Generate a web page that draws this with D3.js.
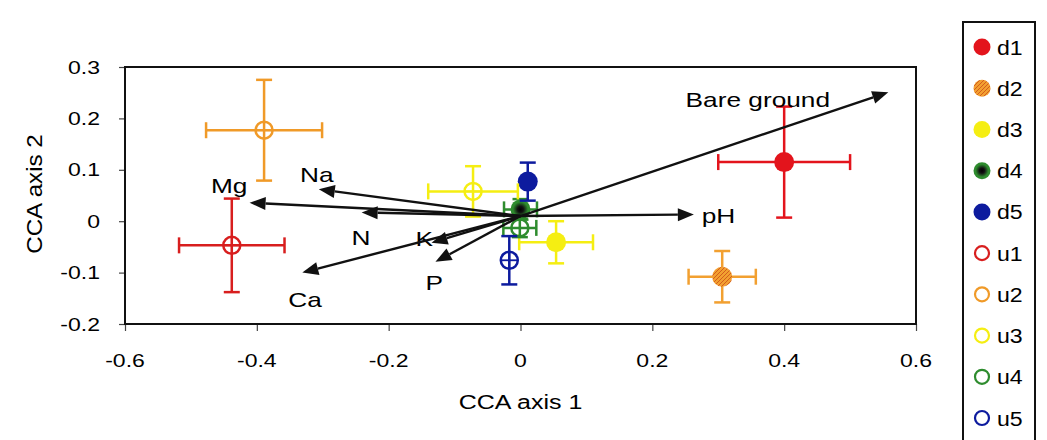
<!DOCTYPE html>
<html>
<head>
<meta charset="utf-8">
<script src="https://cdn.jsdelivr.net/npm/d3@7"></script>
<style>
  html, body { margin: 0; padding: 0; background: #fff; }
  svg { display: block; font-family: "Liberation Sans", Arial, sans-serif; }
</style>
</head>
<body>
<div id="chart"></div>
<script>
// --- данные ---
const sites = ['d1', 'd2', 'd3', 'd4', 'd5', 'u1', 'u2', 'u3', 'u4', 'u5'];
const siteX = [0.400, 0.306, 0.054, 0.000, 0.011, -0.438, -0.389, -0.072, -0.001, -0.017];
const siteY = [0.115, -0.108, -0.041, 0.023, 0.077, -0.047, 0.177, 0.058, -0.013, -0.076];
const siteXErr = [0.100, 0.051, 0.056, 0.025, 0.000, 0.080, 0.088, 0.068, 0.025, 0.000];
const siteYErr = [0.108, 0.050, 0.041, 0.020, 0.037, 0.091, 0.098, 0.049, 0.018, 0.047];

const envVars = ['Bare ground', 'pH', 'Na', 'Mg', 'N', 'K', 'P', 'Ca'];
const envX = [0.558, 0.263, -0.306, -0.411, -0.241, -0.135, -0.129, -0.331];
const envY = [0.251, 0.013, 0.062, 0.036, 0.017, -0.042, -0.079, -0.100];
const envLabelX = [0.360, 0.275, -0.309, -0.442, -0.242, -0.146, -0.131, -0.327];
const envLabelY = [0.222, -0.003, 0.077, 0.054, -0.046, -0.048, -0.134, -0.167];
const arrowOrigin = [0, 0.01];

const xTicks = [-0.6, -0.4, -0.2, 0, 0.2, 0.4, 0.6];
const yTicks = [-0.2, -0.1, 0, 0.1, 0.2, 0.3];
const xTitle = 'CCA axis 1';
const yTitle = 'CCA axis 2';

// --- оформление ---
const W = 1047, H = 440;
const plot = { left: 125, right: 916, top: 67, bottom: 324 };
const siteColor = {
  d1: '#e3141c', d2: '#f2a030', d3: '#f5ee12', d4: '#2e8c2e', d5: '#0d1b9e',
  u1: '#d81e1e', u2: '#f09a28', u3: '#f5ee12', u4: '#2e8c2e', u5: '#0d1b9e'
};

const svg = d3.select('#chart').append('svg')
  .attr('width', W).attr('height', H)
  .attr('viewBox', `0 0 ${W} ${H}`);

svg.append('rect').attr('width', W).attr('height', H).attr('fill', '#fff');

// узоры для d2 (штриховка) и d4 (тёмная середина)
const defs = svg.append('defs');
const hatch = defs.append('pattern')
  .attr('id', 'hatch-d2').attr('patternUnits', 'userSpaceOnUse')
  .attr('width', 4).attr('height', 4);
hatch.append('rect').attr('width', 4).attr('height', 4).attr('fill', '#f2a030');
hatch.append('path').attr('d', 'M0,4L4,0M-1,1L1,-1M3,5L5,3')
  .attr('stroke', '#d0551c').attr('stroke-width', 0.9);
const grad = defs.append('radialGradient').attr('id', 'grad-d4');
grad.append('stop').attr('offset', '0%').attr('stop-color', '#000');
grad.append('stop').attr('offset', '30%').attr('stop-color', '#111');
grad.append('stop').attr('offset', '75%').attr('stop-color', '#2e8c2e');
grad.append('stop').attr('offset', '100%').attr('stop-color', '#2e8c2e');

const fillFor = s => s === 'd2' ? 'url(#hatch-d2)' : s === 'd4' ? 'url(#grad-d4)' : siteColor[s];

const x = d3.scaleLinear().domain([-0.6, 0.6]).range([plot.left, plot.right]);
const y = d3.scaleLinear().domain([-0.2, 0.3]).range([plot.bottom, plot.top]);

// растянутый текст (шрифт на картинке шире Arial)
function wideText(parent, tx, ty, str, size, sx, anchor, rot = 0) {
  const g = parent.append('g')
    .attr('transform', `translate(${tx},${ty}) rotate(${rot}) scale(${sx},1)`);
  g.append('text')
    .attr('text-anchor', anchor)
    .attr('font-size', size)
    .attr('fill', '#000')
    .text(str);
  return g;
}

// оси
const xAxis = svg.append('g')
  .attr('transform', `translate(0,${plot.bottom})`)
  .call(d3.axisBottom(x).tickValues(xTicks).tickSize(7).tickSizeOuter(0).tickFormat(''));
const yAxis = svg.append('g')
  .attr('transform', `translate(${plot.left},0)`)
  .call(d3.axisLeft(y).tickValues(yTicks).tickSize(6).tickSizeOuter(0).tickFormat(''));
[xAxis, yAxis].forEach(a => {
  a.select('.domain').remove();
  a.selectAll('.tick line').attr('stroke', '#444').attr('stroke-width', 1.2);
});

// подписи делений с обычным дефисом, как в оригинале
xTicks.forEach(v => wideText(svg, x(v), 367, String(v), 18, 1.28, 'middle'));
yTicks.forEach(v => wideText(svg, 100, y(v) + 6.5, String(v), 18, 1.28, 'end'));

wideText(svg, (plot.left + plot.right) / 2, 409, xTitle, 20, 1.25, 'middle');
wideText(svg, 42, 194, yTitle, 22, 1.1, 'middle', -90);

// рамка графика
svg.append('rect')
  .attr('x', plot.left).attr('y', plot.top)
  .attr('width', plot.right - plot.left).attr('height', plot.bottom - plot.top)
  .attr('fill', 'none').attr('stroke', '#111').attr('stroke-width', 2);

// точки с погрешностями
const pts = sites.map((s, i) => ({
  s, x: siteX[i], y: siteY[i], xe: siteXErr[i], ye: siteYErr[i], open: s[0] === 'u'
}));
const cap = 8;
const pg = svg.append('g');
pts.forEach(p => {
  const g = pg.append('g')
    .attr('stroke', siteColor[p.s]).attr('stroke-width', 2.5).attr('fill', 'none');
  const cx = x(p.x), cy = y(p.y);
  if (p.xe > 0) {
    const x0 = x(p.x - p.xe), x1 = x(p.x + p.xe);
    g.append('line').attr('x1', x0).attr('x2', x1).attr('y1', cy).attr('y2', cy);
    [x0, x1].forEach(xx => g.append('line')
      .attr('x1', xx).attr('x2', xx).attr('y1', cy - cap).attr('y2', cy + cap));
  }
  if (p.ye > 0) {
    const y0 = y(p.y - p.ye), y1 = y(p.y + p.ye);
    g.append('line').attr('x1', cx).attr('x2', cx).attr('y1', y0).attr('y2', y1);
    [y0, y1].forEach(yy => g.append('line')
      .attr('x1', cx - cap).attr('x2', cx + cap).attr('y1', yy).attr('y2', yy));
  }
  if (p.open) {
    g.append('circle').attr('cx', cx).attr('cy', cy).attr('r', 8.5);
    // перекрестье внутри кружка
    g.append('line').attr('x1', cx - 8.5).attr('x2', cx + 8.5).attr('y1', cy).attr('y2', cy).attr('stroke-width', 1.8);
    g.append('line').attr('x1', cx).attr('x2', cx).attr('y1', cy - 8.5).attr('y2', cy + 8.5).attr('stroke-width', 1.8);
  } else {
    g.append('circle').attr('cx', cx).attr('cy', cy).attr('r', 10)
      .attr('fill', fillFor(p.s)).attr('stroke', 'none');
  }
});

// стрелки переменных среды
const ag = svg.append('g');
const ox = x(arrowOrigin[0]), oy = y(arrowOrigin[1]);
envVars.forEach((name, i) => {
  const tx = x(envX[i]), ty = y(envY[i]);
  const ang = Math.atan2(ty - oy, tx - ox);
  const len = 16, half = 6.5;
  const bx = tx - len * Math.cos(ang), by = ty - len * Math.sin(ang);
  ag.append('line')
    .attr('x1', ox).attr('y1', oy).attr('x2', bx).attr('y2', by)
    .attr('stroke', '#111').attr('stroke-width', 2.4);
  const px = -Math.sin(ang) * half, py = Math.cos(ang) * half;
  ag.append('path')
    .attr('d', `M${tx},${ty}L${bx + px},${by + py}L${bx - px},${by - py}Z`)
    .attr('fill', '#111');
  wideText(ag, x(envLabelX[i]), y(envLabelY[i]), name, 21, 1.25, name === 'pH' ? 'start' : 'middle');
});

// легенда
const leg = svg.append('g');
leg.append('rect')
  .attr('x', 963).attr('y', 22).attr('width', 72).attr('height', 430)
  .attr('fill', '#fff').attr('stroke', '#111').attr('stroke-width', 2);
const ly = d3.scalePoint().domain(sites).range([47, 418]);
sites.forEach(s => {
  const cy = ly(s);
  if (s[0] === 'u') {
    leg.append('circle').attr('cx', 982).attr('cy', cy).attr('r', 7)
      .attr('fill', 'none').attr('stroke', siteColor[s]).attr('stroke-width', 2.2);
  } else {
    leg.append('circle').attr('cx', 982).attr('cy', cy).attr('r', 8.5)
      .attr('fill', fillFor(s));
  }
  wideText(leg, 997, cy + 7.5, s, 21, 1.1, 'start');
});
</script>
</body>
</html>
